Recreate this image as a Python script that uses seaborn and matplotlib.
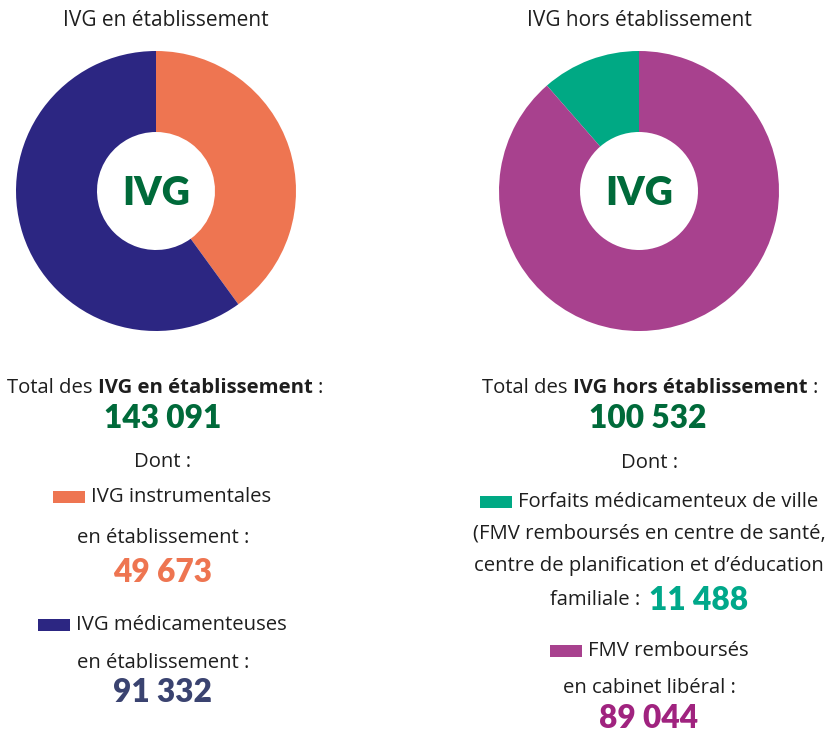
import matplotlib
matplotlib.use("Agg")
import matplotlib.pyplot as plt
from matplotlib.patches import Rectangle
import seaborn as sns

# ---------------- data ----------------
left_title = "IVG en établissement"
right_title = "IVG hors établissement"
left_categories = ["IVG instrumentales en établissement", "IVG médicamenteuses en établissement"]
left_values = [49673, 91332]          # values printed on the chart
left_pie_shares = [40, 60]            # slice shares as drawn in the picture (%)
left_total = 143091
right_categories = ["Forfaits médicamenteux de ville", "FMV remboursés en cabinet libéral"]
right_values = [11488, 89044]
right_total = 100532
center_label = "IVG"

def fmt(v):
    return f"{v:,}".replace(",", " ")

# ---------------- style ----------------
sns.set_theme(style="white")
FONT = ["Open Sans", "DejaVu Sans"]
NUMFONT = ["Lato", "DejaVu Sans"]
plt.rcParams["font.family"] = FONT

left_colors = sns.color_palette(["#EE7551", "#2C2682"])
right_colors = sns.color_palette(["#00A984", "#A8418E"])
GREEN = "#006A3A"
TXT = "#1E1E1E"
num_colors_left = ["#EE7551", "#3A4370"]
num_colors_right = ["#00A88A", "#A0237F"]

W, H = 832, 732
fig = plt.figure(figsize=(W / 100, H / 100), dpi=100)
fig.patch.set_facecolor("white")

def add_donut(cx, cy, r, values, colors, counterclock):
    ax = fig.add_axes([(cx - r) / W, (H - cy - r) / H, 2 * r / W, 2 * r / H])
    ax.pie(values, colors=colors, startangle=90, counterclock=counterclock,
           radius=1.0, wedgeprops=dict(width=1 - 59 / 140, linewidth=0))
    ax.set_xlim(-1, 1)
    ax.set_ylim(-1, 1)
    ax.set_aspect("equal")
    ax.axis("off")
    ax.text(0, -0.02, center_label, ha="center", va="center", color=GREEN,
            fontsize=28, fontweight="heavy", family=NUMFONT)
    return ax

add_donut(156, 191, 140, left_pie_shares, left_colors, counterclock=False)
add_donut(639, 191, 140, right_values, right_colors, counterclock=True)

renderer = fig.canvas.get_renderer()

def line(cx, cy, pieces, gap=6):
    """pieces: list of ('t', text, dict) or ('p', color, width_px, height_px)"""
    objs = []
    widths = []
    for p in pieces:
        if p[0] == "t":
            t = fig.text(0, 1 - cy / H, p[1], ha="left", va="center", **p[2])
            bb = t.get_window_extent(renderer)
            objs.append(t)
            widths.append(bb.width)
        else:
            objs.append(p)
            widths.append(p[2])
    total = sum(widths) + gap * (len(pieces) - 1)
    x = cx - total / 2
    for o, w in zip(objs, widths):
        if isinstance(o, tuple):
            col, pw, ph = o[1], o[2], o[3]
            fig.add_artist(Rectangle((x / W, (H - cy - ph / 2) / H), pw / W, ph / H,
                                     transform=fig.transFigure, color=col, lw=0))
        else:
            o.set_x(x / W)
        x += w + gap

REG = dict(fontsize=14.6, color=TXT)
BOLD = dict(fontsize=14.6, color=TXT, fontweight="bold")
TITLE = dict(fontsize=15.0, color=TXT)
def NUM(c):
    return dict(fontsize=22.8, color=c, fontweight="heavy", family=NUMFONT)

# titles
line(166, 21, [("t", left_title, TITLE)])
line(639, 21, [("t", right_title, TITLE)])

# ---- left column ----
line(165, 388, [("t", "Total des", REG), ("t", "IVG en établissement", BOLD), ("t", ":", REG)], gap=5)
line(163, 418, [("t", fmt(left_total), NUM(GREEN))])
line(163, 462, [("t", "Dont :", REG)])
line(162, 497, [("p", left_colors[0], 32, 12), ("t", "IVG instrumentales", REG)])
line(163, 538, [("t", "en établissement :", REG)])
line(163, 573, [("t", fmt(left_values[0]), NUM(num_colors_left[0]))])
line(162, 625, [("p", left_colors[1], 32, 12), ("t", "IVG médicamenteuses", REG)])
line(163, 663, [("t", "en établissement :", REG)])
line(163, 693, [("t", fmt(left_values[1]), NUM(num_colors_left[1]))])

# ---- right column ----
line(650, 388, [("t", "Total des", REG), ("t", "IVG hors établissement", BOLD), ("t", ":", REG)], gap=5)
line(648, 418, [("t", fmt(right_total), NUM(GREEN))])
line(650, 463, [("t", "Dont :", REG)])
line(649, 502, [("p", right_colors[0], 32, 12), ("t", "Forfaits médicamenteux de ville", REG)])
line(649, 534, [("t", "(FMV remboursés en centre de santé,", REG)])
line(649, 566, [("t", "centre de planification et d\u2019éducation", REG)])
line(649, 600, [("t", "familiale :", REG), ("t", fmt(right_values[0]), NUM(num_colors_right[0]))], gap=8)
line(649, 651, [("p", right_colors[1], 32, 12), ("t", "FMV remboursés", REG)])
line(649, 688, [("t", "en cabinet libéral :", REG)])
line(649, 718, [("t", fmt(right_values[1]), NUM(num_colors_right[1]))])

fig.savefig("out.png", dpi=100, facecolor="white")
